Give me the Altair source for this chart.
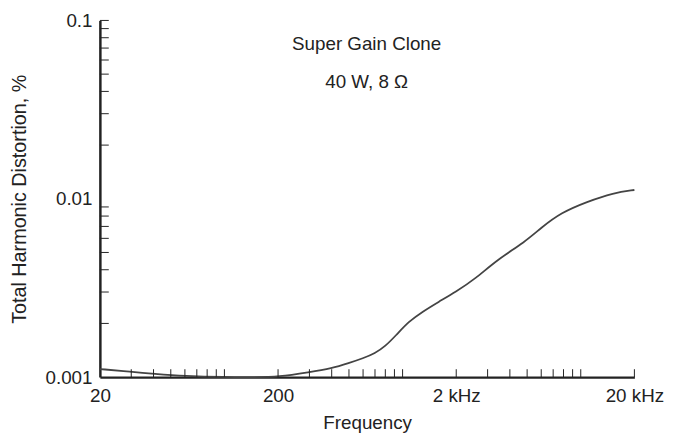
import altair as alt
import pandas as pd

# THD curve (frequency in Hz, THD in %)
freq = [20, 30, 40, 60, 100, 150, 200, 300, 400, 500, 600, 700, 800, 916,
        1082, 1295, 1589, 1982, 2552, 3421, 4835, 6011, 7760, 10826, 15290, 20000]
thd = [0.00111, 0.00107, 0.001045, 0.001015, 0.001, 0.001, 0.001003, 0.001066,
       0.00112, 0.0012, 0.001275, 0.00136, 0.00149, 0.00171, 0.00205, 0.00233,
       0.00264, 0.0030, 0.00355, 0.00458, 0.0057, 0.0069, 0.00836, 0.00962,
       0.0108, 0.0112]

x_major = [20, 200, 2000, 20000]
x_ticks = [30, 40, 50, 60, 70, 80, 90, 100, 200,
           300, 400, 500, 600, 700, 800, 900, 1000, 2000,
           3000, 4000, 5000, 6000, 7000, 8000, 9000, 10000, 20000]
y_major = [0.001, 0.01, 0.1]
y_ticks = [0.002, 0.003, 0.004, 0.005, 0.006, 0.007, 0.008, 0.009,
           0.02, 0.03, 0.04, 0.05, 0.06, 0.07, 0.08, 0.09, 0.1]
note1 = "Super Gain Clone"
note2 = "40 W, 8 \u03a9"

W, H = 541, 361
FONT = "Liberation Sans"
INK = "#222222"
FS = 19

xs = alt.Scale(type="log", domain=[20, 20000], nice=False)
ys = alt.Scale(type="log", domain=[0.001, 0.1], nice=False)

x_axis = alt.Axis(values=x_major, ticks=False, grid=False,
                  domainColor=INK, domainWidth=2.5,
                  labelExpr="datum.value >= 1000 ? format(datum.value/1000, 'd') + ' kHz' : format(datum.value, 'd')",
                  labelFont=FONT, labelFontSize=FS, labelColor=INK,
                  labelPadding=10, labelFlush=False,
                  titleFont=FONT, titleFontSize=FS, titleFontWeight="normal",
                  titleColor=INK, titlePadding=8)
y_axis = alt.Axis(values=y_major, ticks=False, grid=False,
                  domainColor=INK, domainWidth=2.5,
                  labelExpr="datum.value == 0.1 ? '0.1' : datum.value == 0.01 ? '0.01' : '0.001'",
                  labelFont=FONT, labelFontSize=FS, labelColor=INK,
                  labelPadding=8, labelFlush=False,
                  titleFont=FONT, titleFontSize=20, titleFontWeight="normal",
                  titleColor=INK, titlePadding=16)
X_TITLE = "Frequency"
Y_TITLE = "Total Harmonic Distortion, %"

curve = pd.DataFrame({"f": freq, "thd": thd})

line = alt.Chart(curve).mark_line(color="#444444", strokeWidth=1.8,
                                  interpolate="basis").encode(
    x=alt.X("f:Q", scale=xs, title=X_TITLE, axis=x_axis),
    y=alt.Y("thd:Q", scale=ys, title=Y_TITLE, axis=y_axis),
)

xt = alt.Chart(pd.DataFrame({"f": x_ticks})).mark_rule(color=INK, strokeWidth=1).encode(
    x=alt.X("f:Q", scale=xs, title=X_TITLE, axis=x_axis),
    y=alt.value(H),
    y2=alt.value(H - 8),
)

yt = alt.Chart(pd.DataFrame({"thd": y_ticks})).mark_rule(color=INK, strokeWidth=1).encode(
    y=alt.Y("thd:Q", scale=ys, title=Y_TITLE, axis=y_axis),
    x=alt.value(0),
    x2=alt.value(9),
)

t1 = alt.Chart(pd.DataFrame({"t": [note1]})).mark_text(
    font=FONT, fontSize=FS, color=INK, align="center", baseline="middle"
).encode(text="t:N", x=alt.value(270), y=alt.value(24))

t2 = alt.Chart(pd.DataFrame({"t": [note2]})).mark_text(
    font=FONT, fontSize=FS, color=INK, align="center", baseline="middle"
).encode(text="t:N", x=alt.value(270), y=alt.value(62))

chart = alt.layer(line, xt, yt, t1, t2).properties(
    width=W, height=H,
    autosize=alt.AutoSizeParams(type="none"),
    padding={"left": 93, "top": 10, "right": 33, "bottom": 57},
    background="white",
).configure_view(stroke=None)

chart.save("out.html", embed_options={"renderer": "svg", "actions": False})
